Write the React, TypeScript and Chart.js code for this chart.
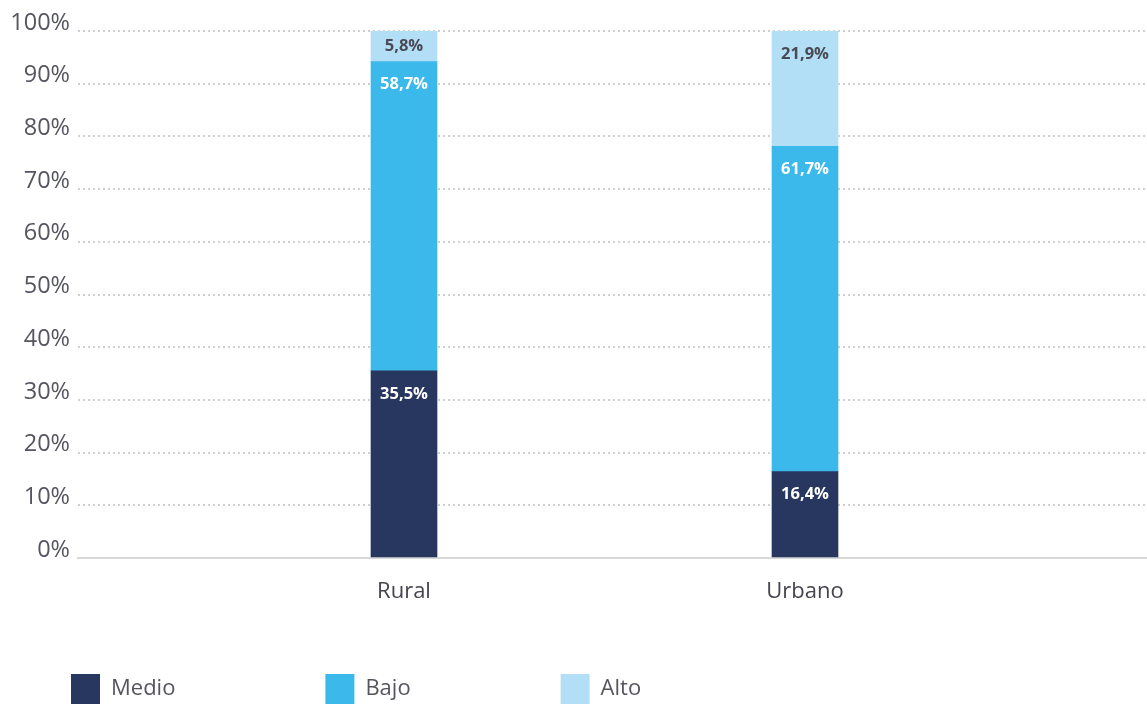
import React, { useEffect, useRef } from 'react';
import { Chart, registerables } from 'chart.js';

Chart.register(...registerables);

const categories = ['Rural', 'Urbano'];
const seriesNames = ['Medio', 'Bajo', 'Alto'];
const medio = [35.5, 16.4];
const bajo = [58.7, 61.7];
const alto = [5.8, 21.9];
const seriesValues = [medio, bajo, alto];
const seriesColors = ['#28375f', '#3cb9eb', '#b2dff5'];
const valueLabelColors = ['#ffffff', '#ffffff', '#4a4a55'];

const FONT = '"Open Sans", "Noto Sans", sans-serif';
const fmt = (v: number) => v.toFixed(1).replace('.', ',') + '%';

const barLabels = {
  id: 'barLabels',
  afterDatasetsDraw(chart: any) {
    const ctx = chart.ctx;
    ctx.save();
    ctx.font = `bold 16.5px ${FONT}`;
    ctx.textAlign = 'center';
    ctx.textBaseline = 'middle';
    chart.data.datasets.forEach((ds: any, di: number) => {
      const meta = chart.getDatasetMeta(di);
      meta.data.forEach((bar: any, i: number) => {
        const v = ds.data[i].y;
        const top = Math.min(bar.y, bar.base);
        const bottom = Math.max(bar.y, bar.base);
        const y = Math.min(top + 23, (top + bottom) / 2);
        ctx.fillStyle = valueLabelColors[di];
        ctx.fillText(fmt(v), bar.x, y);
      });
    });
    ctx.restore();
  },
};

const legendPlacer = {
  id: 'legendPlacer',
  beforeDraw(chart: any) {
    const lg = chart.legend;
    if (!lg) return;
    const pad = lg.options.labels.padding;
    lg.left = 71 - pad;
    lg.top = 674 - pad;
    lg.right = chart.width;
    lg.bottom = chart.height;
  },
};

export default function App() {
  const ref = useRef<HTMLCanvasElement>(null);

  useEffect(() => {
    if (!ref.current) return;
    const chart = new Chart(ref.current, {
      type: 'bar',
      data: {
        datasets: seriesNames.map((name, si) => ({
          label: name,
          data: categories.map((_, i) => ({ x: i, y: seriesValues[si][i] })),
          backgroundColor: seriesColors[si],
          borderWidth: 0,
          barThickness: 66,
        })),
      },
      options: {
        animation: false,
        responsive: true,
        maintainAspectRatio: false,
        layout: { padding: { top: 31, left: 0, right: 0, bottom: 0 } },
        plugins: {
          tooltip: { enabled: false },
          legend: {
            position: 'bottom',
            align: 'start',
            maxHeight: 40,
            labels: {
              boxWidth: 29,
              boxHeight: 30,
              padding: 150,
              color: '#55555f',
              font: { family: FONT, size: 22 },
            },
          },
        },
        scales: {
          x: {
            type: 'linear',
            stacked: true,
            offset: false,
            bounds: 'data',
            min: (78 - 404) / 401,
            max: (1147 - 404) / 401,
            afterBuildTicks: (scale: any) => {
              scale.ticks = categories.map((_, i) => ({ value: i }));
            },
            afterFit: (scale: any) => {
              scale.height = 106;
            },
            grid: { display: false, drawTicks: false, offset: false },
            border: { display: true, color: '#d9d9d9', width: 2 },
            ticks: {
              padding: 21,
              color: '#45454f',
              font: { family: FONT, size: 22 },
              autoSkip: false,
              maxRotation: 0,
              callback: (v: any) => categories[Math.round(Number(v))] ?? '',
            },
          },
          y: {
            stacked: true,
            min: 0,
            max: 100,
            afterFit: (scale: any) => {
              scale.width = 78;
            },
            grid: {
              color: '#d0d0d0',
              lineWidth: 2,
              drawTicks: false,
            },
            border: { display: false, dash: [2, 3] },
            ticks: {
              stepSize: 10,
              padding: 8,
              labelOffset: -8,
              color: '#55555f',
              font: { family: FONT, size: 23.5 },
              callback: (v: any) => `${v}%`,
            },
          },
        },
      },
      plugins: [barLabels, legendPlacer],
    } as any);
    return () => chart.destroy();
  }, []);

  return (
    <div style={{ position: 'absolute', left: 0, top: 0, width: 1147, height: 704 }}>
      <canvas ref={ref} />
    </div>
  );
}
